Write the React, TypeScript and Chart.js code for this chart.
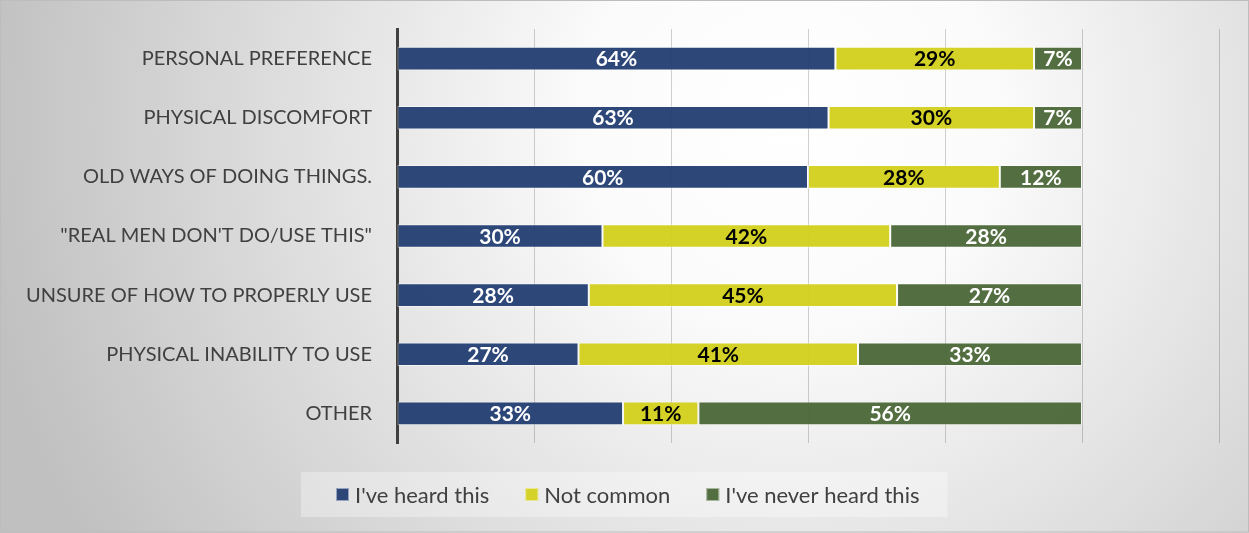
import React, { useEffect, useRef } from "react";
import { Chart, registerables } from "chart.js";

Chart.register(...registerables);

const categories = [
  "PERSONAL PREFERENCE",
  "PHYSICAL DISCOMFORT",
  "OLD WAYS OF DOING THINGS.",
  '"REAL MEN DON\'T DO/USE THIS"',
  "UNSURE OF HOW TO PROPERLY USE",
  "PHYSICAL INABILITY TO USE",
  "OTHER",
];
const seriesNames = ["I've heard this", "Not common", "I've never heard this"];
const heardThis = [64, 63, 60, 30, 28, 26.5, 33];
const notCommon = [29, 30, 28, 42, 45, 40.8, 11];
const neverHeard = [7, 7, 12, 28, 27, 32.7, 56];
const xTickMax = 120;
const xTickStep = 20;

const FONT = "Lato, 'Open Sans', sans-serif";
const barColors = ["rgba(36,64,116,0.96)", "rgba(210,208,30,0.96)", "rgba(76,104,56,0.96)"];
const labelColors = ["#ffffff", "#000000", "#ffffff"];

const backgroundPlugin = {
  id: "bgPlugin",
  beforeDraw(chart: any) {
    const { ctx, width, height } = chart;
    ctx.save();
    const g = ctx.createRadialGradient(790, 120, 0, 790, 120, 820);
    g.addColorStop(0, "#ffffff");
    g.addColorStop(0.25, "#fbfbfb");
    g.addColorStop(1, "#c0c0c0");
    ctx.fillStyle = g;
    ctx.fillRect(0, 0, width, height);
    ctx.strokeStyle = "#bdbdbd";
    ctx.lineWidth = 1;
    ctx.strokeRect(0.5, 0.5, width - 1, height - 1.5);
    ctx.restore();
  },
};

const dataLabelPlugin = {
  id: "dataLabels",
  afterDatasetsDraw(chart: any) {
    const { ctx } = chart;
    ctx.save();
    ctx.font = `bold 21px ${FONT}`;
    ctx.textAlign = "center";
    ctx.textBaseline = "middle";
    chart.data.datasets.forEach((ds: any, di: number) => {
      const meta = chart.getDatasetMeta(di);
      meta.data.forEach((el: any, i: number) => {
        const v = ds.data[i];
        const cx = (el.x + el.base) / 2;
        ctx.fillStyle = labelColors[di];
        ctx.fillText(`${Math.round(v)}%`, cx, el.y + 1);
      });
    });
    ctx.restore();
  },
};

const legendPlugin = {
  id: "customLegend",
  afterDraw(chart: any) {
    const { ctx, width } = chart;
    ctx.save();
    ctx.font = `22px ${FONT}`;
    const box = 13;
    const gap = 6;
    const itemGap = 36;
    const items = chart.data.datasets.map((ds: any) => ({
      text: ds.label,
      color: ds.backgroundColor,
      w: box + gap + ctx.measureText(ds.label).width,
    }));
    const total = items.reduce((s: number, it: any) => s + it.w, 0) + itemGap * (items.length - 1);
    const padL = 35;
    const padR = 28;
    const boxW = total + padL + padR;
    const left = Math.round(width / 2 - boxW / 2);
    const top = 472;
    const h = 45;
    ctx.fillStyle = "rgba(255,255,255,0.32)";
    ctx.fillRect(left, top, boxW, h);
    let x = left + padL;
    const cy = top + h / 2;
    items.forEach((it: any) => {
      ctx.fillStyle = it.color;
      ctx.fillRect(x, cy - box / 2, box, box);
      ctx.strokeStyle = "rgba(255,255,255,0.5)";
      ctx.lineWidth = 1;
      ctx.strokeRect(x + 0.5, cy - box / 2 + 0.5, box - 1, box - 1);
      ctx.fillStyle = "#404040";
      ctx.textAlign = "left";
      ctx.textBaseline = "middle";
      ctx.fillText(it.text, x + box + gap, cy + 1);
      x += it.w + itemGap;
    });
    ctx.restore();
  },
};

export default function App() {
  const ref = useRef<HTMLCanvasElement>(null);
  useEffect(() => {
    if (!ref.current) return;
    const series = [heardThis, notCommon, neverHeard];
    const chart = new Chart(ref.current, {
      type: "bar",
      data: {
        labels: categories,
        datasets: series.map((d, i) => ({
          label: seriesNames[i],
          data: d,
          backgroundColor: barColors[i],
          borderColor: "rgba(255,255,255,0.5)",
          borderWidth: 1,
          borderSkipped: false,
          barPercentage: 0.4,
          categoryPercentage: 1,
        })),
      },
      options: {
        indexAxis: "y",
        responsive: false,
        animation: false,
        layout: { padding: { top: 29, right: 30, left: 0, bottom: 0 } },
        plugins: { legend: { display: false }, tooltip: { enabled: false } },
        scales: {
          x: {
            stacked: true,
            min: 0,
            max: xTickMax,
            ticks: { display: false, stepSize: xTickStep },
            grid: { color: "rgba(0,0,0,0.18)", lineWidth: 1, drawTicks: false },
            border: { display: false },
            afterFit: (s: any) => {
              s.height = 90;
              s.paddingLeft = 0;
              s.paddingRight = 0;
            },
          },
          y: {
            stacked: true,
            ticks: { color: "#404040", font: { family: FONT, size: 20 }, padding: 25 },
            grid: { display: false, drawTicks: false },
            border: { display: true, color: "#404040", width: 3 },
            afterFit: (s: any) => {
              s.width = 397;
              s.paddingTop = 0;
              s.paddingBottom = 0;
            },
          },
        },
      },
      plugins: [backgroundPlugin, dataLabelPlugin, legendPlugin],
    } as any);
    return () => chart.destroy();
  }, []);
  return (
    <div style={{ position: "absolute", left: 0, top: 0, width: 1249, height: 533 }}>
      <canvas ref={ref} width={1249} height={533} style={{ display: "block" }} />
    </div>
  );
}
